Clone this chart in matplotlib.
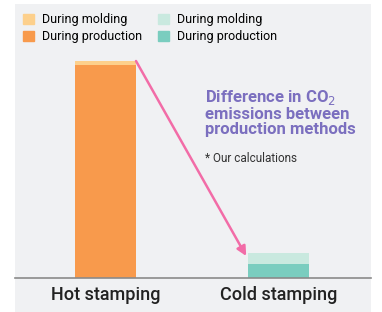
import matplotlib.pyplot as plt
import matplotlib.patches as mpatches
from matplotlib.patches import Rectangle

# data (relative CO2 emissions)
categories = ['Hot stamping', 'Cold stamping']
production = [213, 14]
molding = [4, 11]
legend_labels = ['During molding', 'During production']

colors_hot = ['#fdd08c', '#f89a4c']
colors_cold = ['#c9e9df', '#7acdbf']
bg = '#f0f1f3'

plt.rcParams['font.family'] = ['Roboto', 'DejaVu Sans']

fig = plt.figure(figsize=(3.82, 3.12), dpi=100)
fig.patch.set_facecolor('white')
fig.patches.append(Rectangle((15 / 382, 0), 356 / 382, 308 / 312,
                             transform=fig.transFigure, facecolor=bg,
                             edgecolor='none', zorder=-5))

ax = fig.add_axes([15 / 382, 34 / 312, 356 / 382, 274 / 312])
ax.set_facecolor('none')

x = [0, 1]
w = 0.353
ax.bar(x[0], production[0], w, color=colors_hot[1])
ax.bar(x[0], molding[0], w, bottom=production[0], color=colors_hot[0])
ax.bar(x[1], production[1], w, color=colors_cold[1])
ax.bar(x[1], molding[1], w, bottom=production[1], color=colors_cold[0])

ax.set_xlim(-0.523, 1.535)
ax.set_ylim(0, 274)
for s in ['top', 'right', 'left']:
    ax.spines[s].set_visible(False)
ax.spines['bottom'].set_color('#8a8a8a')
ax.spines['bottom'].set_linewidth(1.2)
ax.set_yticks([])
ax.set_xticks(x)
ax.set_xticklabels(categories, fontsize=13, color='#222222', fontweight='medium')
ax.tick_params(axis='x', length=0, pad=6)

# arrow from hot top to cold top
ax.annotate('', xy=(x[1] - w / 2 - 0.01, production[1] + molding[1] - 3),
            xytext=(x[0] + w / 2, production[0] + molding[0]),
            arrowprops=dict(arrowstyle='-|>', color='#f26ca7', lw=1.8,
                            mutation_scale=14, shrinkA=0, shrinkB=0))

# legend
handles = [mpatches.Patch(color=colors_hot[0], label=legend_labels[0]),
           mpatches.Patch(color=colors_hot[1], label=legend_labels[1]),
           mpatches.Patch(color=colors_cold[0], label=legend_labels[0]),
           mpatches.Patch(color=colors_cold[1], label=legend_labels[1])]
fig.legend(handles=handles, ncol=2, loc='upper left',
           bbox_to_anchor=(23 / 382, 1 - 13 / 312), frameon=False,
           fontsize=9, handlelength=0.9, handleheight=0.9,
           handletextpad=0.6, columnspacing=1.3, labelspacing=0.35,
           borderaxespad=0, borderpad=0)

fig.text(205 / 382, 1 - 88 / 312,
         'Difference in CO$_2$\nemissions between\nproduction methods',
         fontsize=12, fontweight='bold', color='#7b6fbf', va='top',
         linespacing=1.0)
fig.text(205 / 382, 1 - 152 / 312, '* Our calculations', fontsize=8.5,
         color='#333333', va='top')

fig.savefig('out.png', dpi=100)
